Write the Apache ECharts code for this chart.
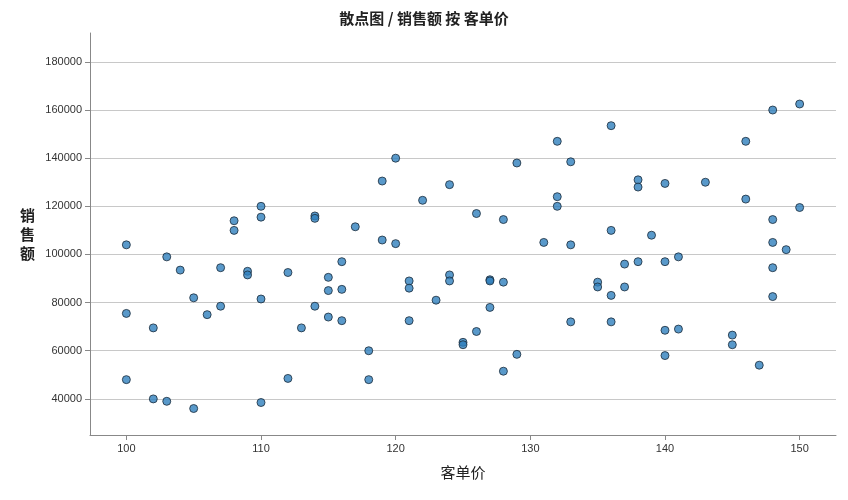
<!DOCTYPE html><html><head><meta charset="utf-8">
<script src="https://cdn.jsdelivr.net/npm/echarts@6/dist/echarts.min.js"></script>
<style>html,body{margin:0;background:#fff}#c{width:848px;height:500px}</style></head><body><div id="c"></div>
<script>
const xPrice = [100,100,100,102,102,103,103,104,105,105,106,107,107,108,108,109,109,110,110,110,110,112,112,113,114,114,114,115,115,115,116,116,116,117,118,118,119,119,120,120,121,121,121,122,123,124,124,124,125,125,126,126,127,127,127,128,128,128,129,129,131,132,132,132,133,133,133,135,135,136,136,136,136,137,137,138,138,138,139,140,140,140,140,141,141,143,145,145,146,146,147,148,148,148,148,148,149,150,150];
const ySales = [104000,75500,48000,69500,40000,99000,39000,93500,82000,36000,75000,94500,78500,114000,110000,93000,91500,120000,115500,81500,38500,92500,48500,69500,116000,115000,78500,90500,85000,74000,97000,85500,72500,111500,60000,48000,130500,106000,140000,104500,89000,86000,72500,122500,81000,129000,91500,89000,63500,62500,117000,68000,89500,89000,78000,114500,88500,51500,138000,58500,105000,147000,124000,120000,138500,104000,72000,88500,86500,153500,110000,83000,72000,96000,86500,131000,128000,97000,108000,129500,97000,68500,58000,99000,69000,130000,66500,62500,147000,123000,54000,160000,114500,105000,94500,82500,102000,162500,119500];
const xTicks = [100,110,120,130,140,150];
const yTicks = [40000,60000,80000,100000,120000,140000,160000,180000];
const data = xPrice.map((x,i)=>[x,ySales[i]]);
const chart = echarts.init(document.getElementById('c'));
const font = '"Noto Sans CJK SC", sans-serif';
chart.setOption({
  animation:false,
  title:{text:'散点图 / 销售额 按 客单价',left:'center',top:6,textStyle:{fontFamily:font,fontSize:15,fontWeight:'bold',color:'#222'}},
  grid:{left:90,right:12,top:33,bottom:65},
  xAxis:{type:'value',min:97.3,max:152.7,
    name:'客单价',nameLocation:'middle',nameGap:30,nameTextStyle:{fontFamily:font,fontSize:15,color:'#222'},
    axisLine:{show:true,lineStyle:{color:'#888'}},
    axisLabel:{fontFamily:'Arial, sans-serif',fontSize:11,color:'#333',customValues:xTicks,formatter:v=>String(v)},
    axisTick:{show:true,customValues:xTicks,lineStyle:{color:'#888'}},
    splitLine:{show:false}},
  yAxis:{type:'value',min:25000,max:192000,
    name:'销\n售\n额',nameLocation:'middle',nameGap:55,nameRotate:0,nameTextStyle:{fontFamily:font,fontSize:15,fontWeight:'bold',color:'#222',lineHeight:19},
    axisLine:{show:true,lineStyle:{color:'#888'}},
    axisTick:{show:true,customValues:yTicks,lineStyle:{color:'#888'}},
    axisLabel:{fontFamily:'Arial, sans-serif',fontSize:11,color:'#333',customValues:yTicks,formatter:v=>String(v)},
    splitLine:{show:true,lineStyle:{color:'#c8c8c8',width:1}}},
  series:[{type:'scatter',data:data,symbolSize:8,
    itemStyle:{color:'#2f80bd',borderColor:'#1a2a3a',borderWidth:1}}]
});
</script></body></html>
